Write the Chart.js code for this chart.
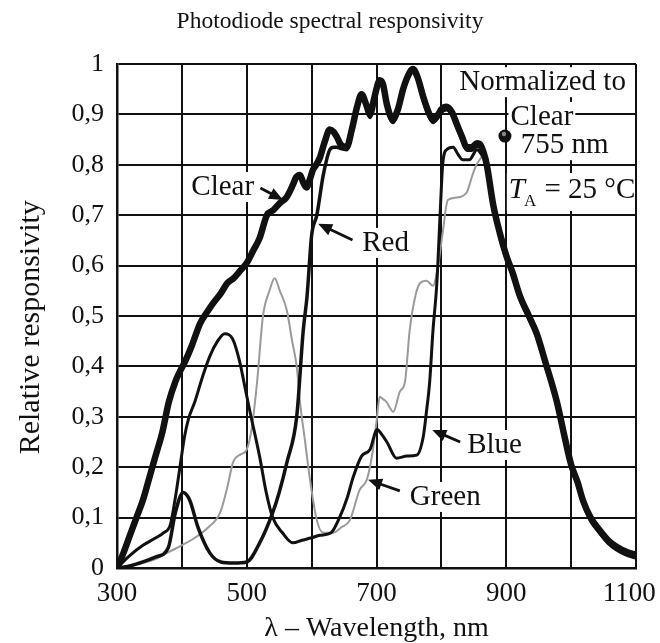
<!DOCTYPE html>
<html>
<head>
<meta charset="utf-8">
<script src="https://cdn.jsdelivr.net/npm/chart.js@4"></script>
<style>
  html, body { margin: 0; padding: 0; background: #fff; }
  canvas { display: block; }
</style>
</head>
<body>
<canvas id="chart" width="660" height="643"></canvas>
<script>
// values (wavelength in nm, relative responsivity)
var clearNm  = [300,310,320,330,340,350,360,370,380,390,397,405,415,428,440,448,460,470,480,490,500,510,520,531,541,551,561,571,576,582,587,592,597,602,607,613,620,628,634,639,645,654,662,670,677,684,690,697,705,710,716,725,733,741,748,756,763,772,780,787,795,800,808,816,824,832,839,847,855,860,865,870,880,890,900,910,921,935,947,960,978,990,1000,1010,1018,1030,1044,1057,1070,1085,1100];
var clearVal = [0,0.03,0.065,0.1,0.135,0.18,0.225,0.27,0.33,0.37,0.39,0.41,0.44,0.485,0.51,0.525,0.545,0.565,0.575,0.59,0.605,0.63,0.655,0.7,0.71,0.724,0.735,0.76,0.775,0.78,0.765,0.755,0.77,0.79,0.8,0.815,0.845,0.87,0.865,0.855,0.84,0.835,0.87,0.915,0.94,0.92,0.9,0.935,0.968,0.96,0.92,0.89,0.91,0.95,0.975,0.99,0.975,0.935,0.905,0.89,0.9,0.91,0.915,0.905,0.88,0.855,0.835,0.835,0.843,0.84,0.825,0.8,0.72,0.665,0.62,0.585,0.54,0.5,0.465,0.41,0.33,0.26,0.205,0.17,0.135,0.1,0.075,0.055,0.042,0.032,0.026];

var redNm  = [300,320,340,360,379,390,402,412,425,443,460,480,500,520,540,550,562,577,587,593,600,608,618,628,634,639,645,654,662,670,677,684,690,697,705,710,716,725,733,741,748,756,763,772,780,787,795,800,808,816,824,832,839,847,855,860,865,870,880,890,900,910,921,935,947,960,978,990,1000,1010,1018,1030,1044,1057,1070,1085,1100];
var redVal = [0,0.004,0.012,0.022,0.04,0.11,0.15,0.135,0.08,0.03,0.012,0.01,0.012,0.05,0.11,0.15,0.21,0.3,0.47,0.54,0.66,0.7,0.78,0.83,0.835,0.835,0.832,0.83,0.862,0.909,0.934,0.914,0.894,0.929,0.962,0.954,0.914,0.884,0.904,0.944,0.969,0.984,0.969,0.929,0.899,0.884,0.894,0.904,0.909,0.899,0.874,0.849,0.829,0.829,0.837,0.834,0.819,0.794,0.714,0.659,0.614,0.579,0.534,0.494,0.459,0.404,0.324,0.254,0.199,0.164,0.129,0.094,0.069,0.049,0.036,0.026,0.02];

var blueNm  = [300,320,340,360,372,382,390,397,404,410,420,432,443,455,466,478,489,497,505,520,530,540,555,571,585,600,613,630,643,655,664,677,690,701,708,716,731,747,762,772,777,782,787,793,798,802,808,818,826,833,843,855,862,870,880,900,921,947,978,1000,1018,1044,1070,1100];
var blueVal = [0,0.025,0.045,0.06,0.07,0.085,0.14,0.2,0.26,0.295,0.33,0.38,0.42,0.45,0.465,0.455,0.41,0.36,0.31,0.22,0.15,0.1,0.07,0.05,0.055,0.06,0.065,0.07,0.1,0.14,0.18,0.222,0.235,0.275,0.265,0.25,0.218,0.222,0.224,0.26,0.31,0.37,0.47,0.565,0.7,0.8,0.83,0.835,0.82,0.81,0.81,0.83,0.82,0.8,0.72,0.62,0.54,0.465,0.33,0.205,0.135,0.075,0.042,0.026];

var greenNm  = [300,320,340,360,377,400,420,440,459,470,479,490,500,508,516,525,535,543,551,562,570,577,582,590,597,608,618,633,645,659,674,685,694,700,705,710,715,726,736,744,751,760,767,777,787,795,802,810,823,839,848,854,859,865,870,880,900,921,947,978,1000,1018,1044,1070,1100];
var greenVal = [0,0.005,0.01,0.018,0.03,0.045,0.06,0.08,0.11,0.16,0.21,0.225,0.235,0.28,0.37,0.5,0.55,0.575,0.55,0.51,0.45,0.4,0.33,0.25,0.18,0.095,0.07,0.07,0.08,0.095,0.155,0.175,0.23,0.29,0.34,0.335,0.33,0.31,0.35,0.37,0.47,0.54,0.565,0.57,0.56,0.6,0.665,0.73,0.735,0.745,0.78,0.8,0.81,0.82,0.8,0.72,0.62,0.54,0.465,0.33,0.205,0.135,0.075,0.042,0.026];

// the last label sits a little left of its tick in the original, hence the padding spaces
var xTickLabels = ['300','','500','','700','','900','','1100  '];
var yTickLabels = ['0','0,1','0,2','0,3','0,4','0,5','0,6','0,7','0,8','0,9','1'];

// text notes, placed in data units (nm, responsivity)
var curveNotes = [
  {text: 'Clear', x: 463, y: 0.756, fromX: 521, fromY: 0.754, toX: 556, toY: 0.73},
  {text: 'Red',   x: 714, y: 0.645, fromX: 663, fromY: 0.651, toX: 610, toY: 0.683},
  {text: 'Blue',  x: 882, y: 0.244, fromX: 829, fromY: 0.25, toX: 786, toY: 0.274},
  {text: 'Green', x: 806, y: 0.141, fromX: 736, fromY: 0.153, toX: 687, toY: 0.175}
];
var boxNotes = [
  {text: 'Normalized to', x: 956, y: 0.964},
  {text: 'Clear', x: 955, y: 0.895},
  {text: '755 nm', x: 990, y: 0.839}
];
var markerNm = 898, markerVal = 0.857;
var tempNm = 904, tempVal = 0.75;

var SERIF = '"Liberation Serif", "Times New Roman", serif';
var INK = '#111';
var NOTE_FONT = '29px ' + SERIF;

function pairs(xs, ys) {
  return xs.map(function (x, i) { return {x: x, y: ys[i]}; });
}

function arrow(ctx, x1, y1, x2, y2) {
  var a = Math.atan2(y2 - y1, x2 - x1);
  var len = 14, half = 6;
  ctx.beginPath();
  ctx.moveTo(x1, y1);
  ctx.lineTo(x2 - Math.cos(a) * len * 0.8, y2 - Math.sin(a) * len * 0.8);
  ctx.lineWidth = 2.8;
  ctx.strokeStyle = INK;
  ctx.stroke();
  ctx.beginPath();
  ctx.moveTo(x2, y2);
  ctx.lineTo(x2 - Math.cos(a) * len - Math.sin(a) * half, y2 - Math.sin(a) * len + Math.cos(a) * half);
  ctx.lineTo(x2 - Math.cos(a) * len + Math.sin(a) * half, y2 - Math.sin(a) * len - Math.cos(a) * half);
  ctx.closePath();
  ctx.fillStyle = INK;
  ctx.fill();
}

var notesPlugin = {
  id: 'notes',
  beforeDatasetsDraw: function (chart) {
    // white patches behind the notes hide the grid there
    var ctx = chart.ctx, xs = chart.scales.x, ys = chart.scales.y;
    ctx.save();
    ctx.font = NOTE_FONT;
    ctx.fillStyle = '#fff';
    boxNotes.concat(curveNotes).forEach(function (n) {
      var w = ctx.measureText(n.text).width;
      var px = xs.getPixelForValue(n.x), py = ys.getPixelForValue(n.y);
      ctx.fillRect(px - w / 2 - 2, py - 15, w + 4, 30);
    });
    var tx = xs.getPixelForValue(tempNm), ty = ys.getPixelForValue(tempVal);
    ctx.fillRect(tx - 2, ty - 17, chart.chartArea.right - tx, 38);
    ctx.restore();
  },
  afterDatasetsDraw: function (chart) {
    var ctx = chart.ctx, xs = chart.scales.x, ys = chart.scales.y;
    ctx.save();
    ctx.fillStyle = INK;
    ctx.textAlign = 'center';
    ctx.textBaseline = 'middle';
    ctx.font = NOTE_FONT;
    boxNotes.concat(curveNotes).forEach(function (n) {
      ctx.fillText(n.text, xs.getPixelForValue(n.x), ys.getPixelForValue(n.y));
    });
    curveNotes.forEach(function (n) {
      arrow(ctx, xs.getPixelForValue(n.fromX), ys.getPixelForValue(n.fromY),
                 xs.getPixelForValue(n.toX), ys.getPixelForValue(n.toY));
    });
    // normalisation point
    var mx = xs.getPixelForValue(markerNm), my = ys.getPixelForValue(markerVal);
    ctx.beginPath();
    ctx.arc(mx, my, 6.5, 0, Math.PI * 2);
    ctx.fillStyle = INK;
    ctx.fill();
    ctx.beginPath();
    ctx.arc(mx - 1, my - 2, 2.2, 0, Math.PI * 2);
    ctx.fillStyle = '#888';
    ctx.fill();
    // T_A = 25 °C
    var tx = xs.getPixelForValue(tempNm), ty = ys.getPixelForValue(tempVal);
    ctx.fillStyle = INK;
    ctx.textAlign = 'left';
    ctx.font = 'italic ' + NOTE_FONT;
    ctx.fillText('T', tx, ty);
    tx += ctx.measureText('T').width - 1;
    ctx.font = '17px ' + SERIF;
    ctx.fillText('A', tx, ty + 12);
    tx += ctx.measureText('A').width + 1;
    ctx.font = NOTE_FONT;
    ctx.fillText(' = 25 \u00B0C', tx, ty);
    ctx.restore();
  }
};

var chart = new Chart(document.getElementById('chart'), {
  type: 'line',
  data: {
    datasets: [
      {label: 'Clear', data: pairs(clearNm, clearVal), borderColor: INK, borderWidth: 6.5, order: 0},
      {label: 'Red', data: pairs(redNm, redVal), borderColor: INK, borderWidth: 3.5, order: 1},
      {label: 'Blue', data: pairs(blueNm, blueVal), borderColor: INK, borderWidth: 3, order: 2},
      {label: 'Green', data: pairs(greenNm, greenVal), borderColor: '#9a9a9a', borderWidth: 2, order: 3}
    ]
  },
  options: {
    responsive: false,
    animation: false,
    events: [],
    elements: {
      point: {radius: 0},
      line: {cubicInterpolationMode: 'monotone', fill: false, borderCapStyle: 'round', borderJoinStyle: 'round'}
    },
    layout: {padding: 0},
    plugins: {
      legend: {display: false},
      tooltip: {enabled: false},
      title: {
        display: true,
        text: 'Photodiode spectral responsivity',
        color: INK,
        font: {family: SERIF, size: 23.5, weight: 'normal'},
        padding: {top: 8, bottom: 27.8}
      }
    },
    scales: {
      x: {
        type: 'linear',
        min: 300,
        max: 1100,
        // fixed axis box so the plot frame lands where the original has it
        afterFit: function (s) { s.height = 75; s.paddingRight = 24; },
        ticks: {
          stepSize: 100,
          autoSkip: false,
          maxRotation: 0,
          padding: 10,
          color: INK,
          font: {family: SERIF, size: 27},
          callback: function (v, i) { return xTickLabels[i]; }
        },
        grid: {color: INK, lineWidth: 2, drawTicks: false},
        border: {color: INK, width: 2.5},
        title: {
          display: true,
          text: '\u03BB \u2013 Wavelength, nm',
          color: INK,
          font: {family: SERIF, size: 28, lineHeight: 1},
          padding: {top: 0, bottom: 0}
        }
      },
      y: {
        min: 0,
        max: 1,
        afterFit: function (s) { s.width = 117; },
        ticks: {
          stepSize: 0.1,
          autoSkip: false,
          padding: 13,
          color: INK,
          font: {family: SERIF, size: 26},
          callback: function (v, i) { return yTickLabels[i]; }
        },
        grid: {color: INK, lineWidth: 2, drawTicks: false},
        border: {color: INK, width: 2.5},
        title: {
          display: true,
          text: 'Relative responsivity   ',
          color: INK,
          font: {family: SERIF, size: 30, lineHeight: 1},
          padding: {top: 16, bottom: 0}
        }
      }
    }
  },
  plugins: [notesPlugin]
});
</script>
</body>
</html>
